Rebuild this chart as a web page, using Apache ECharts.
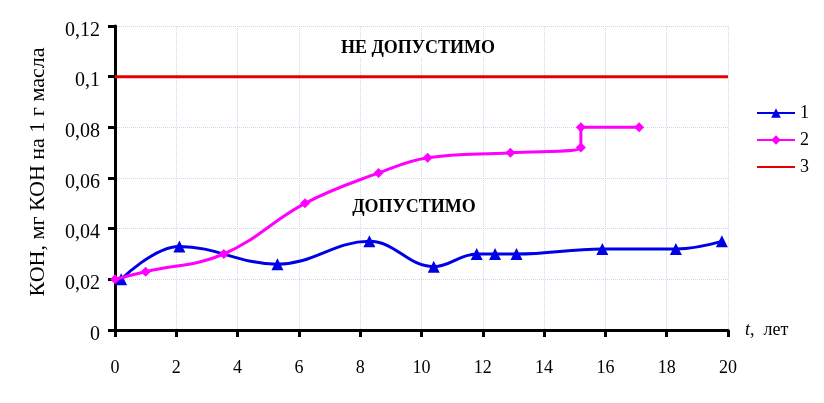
<!DOCTYPE html>
<html><head><meta charset="utf-8">
<script src="https://cdn.jsdelivr.net/npm/echarts@6/dist/echarts.min.js"></script>
<style>html,body{margin:0;padding:0;background:#fff}#c{width:824px;height:403px}</style>
</head><body><div id="c"></div>
<script>
const s1x = [0.2, 2.1, 5.3, 8.3, 10.4, 11.8, 12.4, 13.1, 15.9, 18.3, 19.8];
const s1y = [0.020, 0.033, 0.026, 0.035, 0.025, 0.030, 0.030, 0.030, 0.032, 0.032, 0.035];
const s2x = [0, 1.0, 3.55, 6.2, 8.6, 10.2, 12.9, 15.2, 15.2, 17.1];
const s2y = [0.020, 0.023, 0.030, 0.050, 0.062, 0.068, 0.070, 0.072, 0.080, 0.080];
const s3x = [0, 20];
const s3y = [0.1, 0.1];
const names = ['1', '2', '3'];
const yName = 'КОН, мг КОН на 1 г масла';
const topText = 'НЕ ДОПУСТИМО';
const midText = 'ДОПУСТИМО';

const zip = (a, b) => a.map((v, i) => [v, b[i]]);
const font = 'Liberation Serif';
const chart = echarts.init(document.getElementById('c'), null, {renderer: 'canvas'});
chart.setOption({
  animation: false,
  backgroundColor: '#fff',
  textStyle: {fontFamily: font},
  grid: {left: 115, right: 96, top: 26, bottom: 73, containLabel: false},
  legend: {
    orient: 'vertical', right: 10, top: 99, itemWidth: 38, itemHeight: 12, itemGap: 9,
    textStyle: {fontFamily: font, fontSize: 18, color: '#000'},
    data: [names[0], names[1], {name: names[2], itemStyle: {opacity: 0}}]
  },
  xAxis: {
    type: 'value', min: 0, max: 20, interval: 2,
    name: '{i|t},  лет', nameLocation: 'end', nameGap: 17,
    nameTextStyle: {fontFamily: font, fontSize: 18, color: '#000', rich: {i: {fontStyle: 'italic', fontFamily: font, fontSize: 18}}},
    axisLine: {onZero: false, lineStyle: {color: '#000', width: 3}},
    axisTick: {show: true, length: 7, lineStyle: {color: '#000', width: 3}},
    axisLabel: {color: '#000', fontSize: 18, fontFamily: font, margin: 29},
    splitLine: {show: true, lineStyle: {color: '#d4d4ee', type: 'dotted', width: 1}}
  },
  yAxis: {
    type: 'value', min: 0, max: 0.12, interval: 0.02,
    axisLine: {show: true, lineStyle: {color: '#000', width: 3}},
    axisTick: {show: true, length: 7, lineStyle: {color: '#000', width: 3}},
    axisLabel: {color: '#000', fontSize: 20, fontFamily: font, margin: 15,
      formatter: v => '{a|' + String(parseFloat(v.toFixed(2))).replace('.', ',') + '}',
      rich: {a: {fontSize: 20, fontFamily: font, color: '#000', padding: [9, 0, 0, 0]}}},
    splitLine: {show: true, lineStyle: {color: '#d4d4ee', type: 'dotted', width: 1}}
  },
  series: [
    {name: names[0], type: 'line', smooth: 0.4, data: zip(s1x, s1y), symbol: 'triangle', symbolSize: 12,
     lineStyle: {color: '#0000e6', width: 3}, itemStyle: {color: '#0000e6'}, z: 3},
    {name: names[1], type: 'line', smooth: 0.4, data: zip(s2x, s2y), symbol: 'diamond', symbolSize: 10,
     lineStyle: {color: '#ff00ff', width: 3}, itemStyle: {color: '#ff00ff'}, z: 4},
    {name: names[2], type: 'line', data: zip(s3x, s3y), symbol: 'none', showSymbol: false,
     lineStyle: {color: '#e60000', width: 3}, itemStyle: {color: '#e60000'}, z: 2}
  ],
  graphic: [
    {type: 'text', x: 38, y: 172, rotation: Math.PI / 2, z: 100,
     style: {text: yName, font: '22px "Liberation Serif"', fill: '#000', align: 'center', verticalAlign: 'middle'}},
    {type: 'text', x: 418, y: 48, z: 100, style: {text: topText, font: 'bold 18px "Liberation Serif"', fill: '#000', align: 'center', verticalAlign: 'middle', backgroundColor: '#fff'}},
    {type: 'text', x: 414, y: 207, z: 100, style: {text: midText, font: 'bold 18px "Liberation Serif"', fill: '#000', align: 'center', verticalAlign: 'middle'}}
  ]
});
</script></body></html>
